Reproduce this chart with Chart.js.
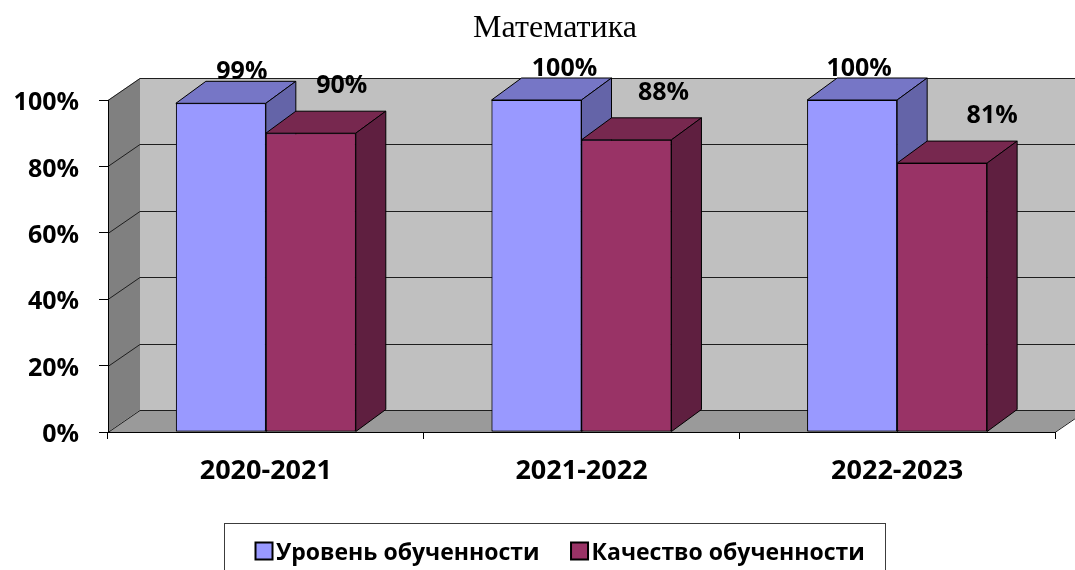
<!DOCTYPE html>
<html>
<head>
<meta charset="utf-8">
<script src="https://cdn.jsdelivr.net/npm/chart.js@4.4.1/dist/chart.umd.min.js"></script>
<style>
html,body{margin:0;padding:0;background:#ffffff;}
canvas{display:block;}
</style>
</head>
<body>
<canvas id="c" width="1075" height="570" style="width:1075px;height:570px"></canvas>
<script>
// ---- data ----
const chartTitle = 'Математика';
const categories = ['2020-2021', '2021-2022', '2022-2023'];
const seriesNames = ['Уровень обученности', 'Качество обученности'];
const levelValues = [99, 100, 100];
const qualityValues = [90, 88, 81];
const yTickValues = [0, 20, 40, 60, 80, 100];

// ---- style ----
const FONT = "'Open Sans', 'DejaVu Sans', sans-serif";
const WALL = { dx: 32, dy: 22 };
const BAR3D = { dx: 30, dy: 22 };
const faceColors = [
  { front: '#9999FF', top: '#7676C6', side: '#6464A8' },
  { front: '#993366', top: '#77284F', side: '#5F1F40' }
];
const labelShiftX = [[21, 28, 7], [31, 37, 50]];
const labelRise = [11, 27];

function poly(ctx, pts, fill, stroke) {
  ctx.beginPath();
  ctx.moveTo(pts[0][0], pts[0][1]);
  for (let i = 1; i < pts.length; i++) ctx.lineTo(pts[i][0], pts[i][1]);
  ctx.closePath();
  if (fill) { ctx.fillStyle = fill; ctx.fill(); }
  if (stroke) { ctx.strokeStyle = stroke; ctx.lineWidth = 1; ctx.stroke(); }
}

const wallPlugin = {
  id: 'walls',
  beforeDraw(chart) {
    const ctx = chart.ctx;
    const { left: L, right: R, top: T, bottom: B } = chart.chartArea;
    const W = chart.width + 10;
    const ys = chart.scales.y;
    ctx.save();
    ctx.fillStyle = '#C0C0C0';
    ctx.fillRect(L + WALL.dx, T - WALL.dy, W - (L + WALL.dx), B - T);
    poly(ctx, [[L, T], [L + WALL.dx, T - WALL.dy], [L + WALL.dx, B - WALL.dy], [L, B]], '#808080');
    poly(ctx, [[L, B], [L + WALL.dx, B - WALL.dy], [R + WALL.dx, B - WALL.dy], [R, B]], '#9A9A9A');
    ctx.strokeStyle = '#1E1E1E';
    ctx.lineWidth = 1;
    yTickValues.forEach(v => {
      const py = Math.round(ys.getPixelForValue(v)) + 0.5;
      ctx.beginPath();
      ctx.moveTo(L, py);
      ctx.lineTo(L + WALL.dx, py - WALL.dy);
      ctx.lineTo(W, py - WALL.dy);
      ctx.stroke();
    });
    ctx.beginPath();
    ctx.moveTo(R, B + 0.5);
    ctx.lineTo(R + WALL.dx, B - WALL.dy + 0.5);
    ctx.stroke();
    ctx.restore();
  }
};

// Redraw the bars category by category, series in order, adding the 3D faces
const bar3dPlugin = {
  id: 'bar3d',
  afterDatasetsDraw(chart) {
    const ctx = chart.ctx;
    const metas = chart.data.datasets.map((d, i) => chart.getDatasetMeta(i));
    ctx.save();
    categories.forEach((c, j) => {
      metas.forEach((meta, di) => {
        const bar = meta.data[j];
        if (!bar) return;
        const col = faceColors[di];
        bar.draw(ctx, chart.chartArea);
        const p = bar.getProps(['x', 'y', 'base', 'width'], true);
        const l = p.x - p.width / 2, r = p.x + p.width / 2;
        const t = p.y, b = p.base;
        poly(ctx, [[l, t], [l + BAR3D.dx, t - BAR3D.dy], [r + BAR3D.dx, t - BAR3D.dy], [r, t]], col.top, '#000');
        poly(ctx, [[r, t], [r + BAR3D.dx, t - BAR3D.dy], [r + BAR3D.dx, b - BAR3D.dy], [r, b]], col.side, '#000');
      });
    });
    ctx.restore();
  }
};

const textPlugin = {
  id: 'texts',
  afterDraw(chart) {
    const ctx = chart.ctx;
    ctx.save();
    // title
    ctx.fillStyle = '#000';
    ctx.font = "32px 'Liberation Serif', 'Times New Roman', serif";
    ctx.textAlign = 'center';
    ctx.textBaseline = 'alphabetic';
    ctx.fillText(chartTitle, 555, 37);
    // data labels
    ctx.font = 'bold 25px ' + FONT;
    chart.data.datasets.forEach((ds, di) => {
      const meta = chart.getDatasetMeta(di);
      meta.data.forEach((bar, j) => {
        const p = bar.getProps(['x', 'y'], true);
        const cx = p.x + labelShiftX[di][j];
        const capCenter = p.y - BAR3D.dy - labelRise[di];
        ctx.fillText(ds.data[j] + '%', cx, capCenter + 9);
      });
    });
    // legend
    ctx.strokeStyle = '#3C3C3C';
    ctx.lineWidth = 1;
    ctx.strokeRect(224.5, 523.5, 661, 60);
    ctx.font = 'bold 23px ' + FONT;
    ctx.textAlign = 'left';
    let x = 255;
    chart.data.datasets.forEach((ds, di) => {
      ctx.fillStyle = faceColors[di].front;
      ctx.fillRect(x + 0.5, 542.5, 17, 17);
      ctx.strokeStyle = '#000';
      ctx.lineWidth = 2;
      ctx.strokeRect(x + 0.5, 542.5, 17, 17);
      ctx.fillStyle = '#000';
      ctx.fillText(ds.label, x + 21, 560);
      x += 21 + ctx.measureText(ds.label).width + 31;
    });
    ctx.restore();
  }
};

new Chart(document.getElementById('c'), {
  type: 'bar',
  data: {
    labels: categories,
    datasets: [
      { label: seriesNames[0], data: levelValues, backgroundColor: faceColors[0].front, borderColor: '#000', borderWidth: 1, borderSkipped: false },
      { label: seriesNames[1], data: qualityValues, backgroundColor: faceColors[1].front, borderColor: '#000', borderWidth: 1, borderSkipped: false }
    ]
  },
  options: {
    responsive: false,
    devicePixelRatio: 1,
    animation: false,
    layout: { padding: { top: 100, left: 0, right: 20, bottom: 70 } },
    datasets: { bar: { categoryPercentage: 0.57, barPercentage: 1.0 } },
    plugins: { legend: { display: false }, title: { display: false }, tooltip: { enabled: false } },
    scales: {
      x: {
        offset: true,
        grid: { display: true, offset: true, drawOnChartArea: false, drawTicks: true, tickLength: 7, tickColor: '#000' },
        border: { display: true, color: '#000' },
        ticks: { color: '#000', font: { family: FONT, size: 27, weight: 'bold' }, padding: 16, maxRotation: 0 },
        afterFit(s) { s.height = 68; }
      },
      y: {
        min: 0, max: 100,
        afterBuildTicks(s) { s.ticks = yTickValues.map(v => ({ value: v })); },
        grid: { display: true, drawOnChartArea: false, drawTicks: true, tickLength: 9, tickColor: '#000' },
        border: { display: true, color: '#000' },
        ticks: { color: '#000', font: { family: FONT, size: 25, weight: 'bold' }, padding: 20, labelOffset: 3, callback: v => v + '%' },
        afterFit(s) { s.width = 108; }
      }
    }
  },
  plugins: [wallPlugin, bar3dPlugin, textPlugin]
});
</script>
</body>
</html>
